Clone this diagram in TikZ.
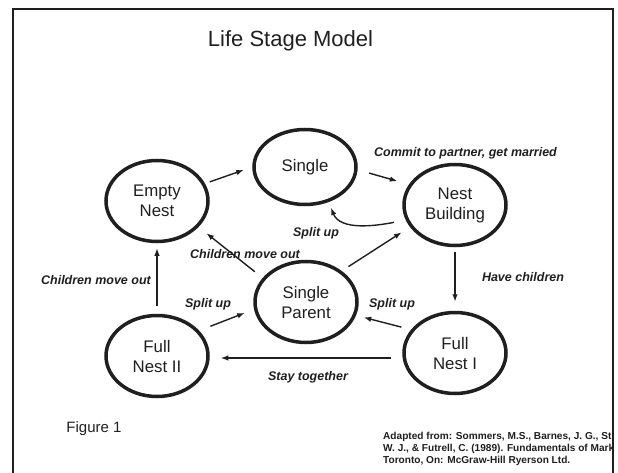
\documentclass[tikz,border=0pt]{standalone}
\usepackage{fontspec}
\setmainfont{Liberation Sans}
\usetikzlibrary{shapes.geometric,arrows.meta}
\definecolor{ink}{gray}{0.12}
\tikzset{stage node/.style={ellipse,draw=ink,text=ink,line width=3.5pt,minimum width=102pt,minimum height=81pt,inner sep=0pt,align=center,font=\fontsize{16.8}{20}\selectfont}}
\tikzset{move edge/.style={draw=ink,-{Latex[length=7.5pt,width=5.5pt]},line width=1.4pt,shorten <=9pt,shorten >=9pt}}
\tikzset{move label/.style={text=ink,inner sep=0pt,font=\fontsize{12.5}{14}\selectfont\bfseries\itshape}}
\tikzset{cite line/.style={text=ink,inner sep=0pt,anchor=base west,font=\fontsize{10.1}{11}\selectfont\bfseries}}

\begin{document}
\begin{tikzpicture}[x=1pt,y=-1pt]
\useasboundingbox (0,0) rectangle (618,473);
\draw[ink,line width=2.2pt] (13,473) -- (13,9) -- (613,9) -- (613,473);

\node[text=ink,inner sep=0pt,anchor=base,font=\fontsize{22}{26}\selectfont] (title) at (290.5,47) {Life Stage Model};

% stages
\node[stage node] (EN) at (157,201) {Empty\\Nest};
\node[stage node,minimum height=75pt] (S) at (305,167) {Single};
\node[stage node] (NB) at (455,205) {Nest\\Building};
\node[stage node] (SP) at (306,302) {Single\\Parent};
\node[stage node] (FN2) at (157,356) {Full\\Nest II};
\node[stage node] (FN1) at (455,353) {Full\\Nest I};

% moves between stages
\draw[move edge,shorten <=5pt] (EN.20) -- (S.180);
\draw[move edge,shorten <=12pt,shorten >=12pt] (S.-3) -- (NB.156);
\draw[move edge,shorten <=12pt,shorten >=6pt] (NB.197) to[out=191,in=-68] (S.-56);
\draw[move edge,shorten <=5pt] (NB.south) -- (FN1.north);
\draw[move edge,shorten <=8pt,shorten >=5pt] (FN2.north) -- (EN.south);
\draw[move edge,shorten <=10pt,shorten >=10pt] (SP.151) -- (EN.-32);
\draw[move edge,shorten <=8pt,shorten >=10pt] (SP.41) -- (NB.206);
\draw[move edge,shorten <=12pt,shorten >=10pt] (FN2.31) -- (SP.188);
\draw[move edge,shorten <=10pt,shorten >=8pt] (FN1.152) -- (SP.-15);
\draw[move edge,shorten <=11pt,shorten >=11pt] ([yshift=-5pt]FN1.west) -- ([yshift=-2pt]FN2.east);

\node[move label,anchor=west] (commit) at (374,153) {Commit to partner, get married};
\node[move label] (splitTop) at (316,233) {Split up};
\node[move label] (childMid) at (245,254) {Children move out};
\node[move label] (childLeft) at (96,280) {Children move out};
\node[move label] (have) at (523,277) {Have children};
\node[move label] (splitLeft) at (208,304) {Split up};
\node[move label] (splitRight) at (392,304) {Split up};
\node[move label] (stay) at (308,377) {Stay together};

\node[text=ink,inner sep=0pt,font=\fontsize{15}{18}\selectfont] (fig) at (94,429) {Figure 1};
\begin{scope}
\clip (13,9) rectangle (612,473);
\node[cite line] (cite1) at (383,439) {Adapted from: Sommers, M.S., Barnes, J. G., St};
\node[cite line] (cite2) at (383,451) {W. J., \& Futrell, C. (1989). Fundamentals of Mark};
\node[cite line] (cite3) at (383,463) {Toronto, On: McGraw-Hill Ryerson Ltd.};
\end{scope}

\end{tikzpicture}
\end{document}
